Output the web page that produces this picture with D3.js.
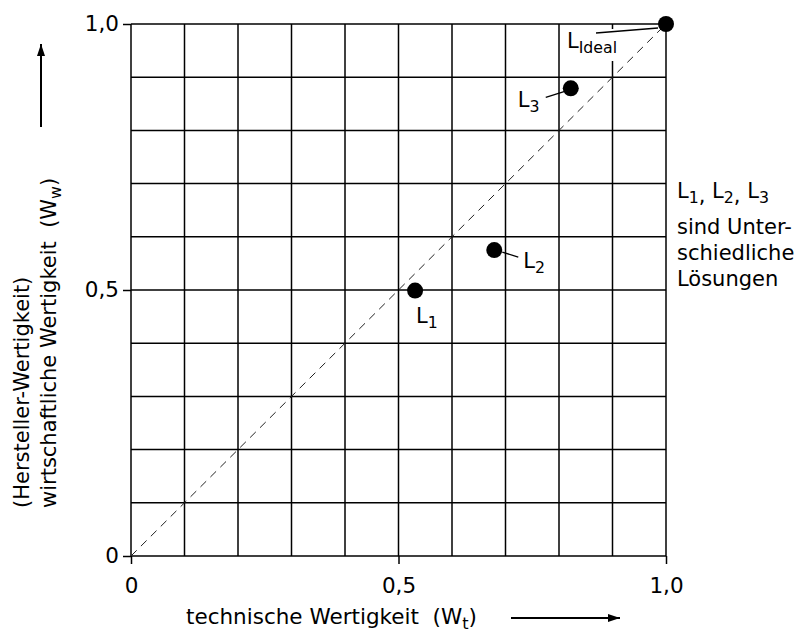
<!DOCTYPE html>
<html>
<head>
<meta charset="utf-8">
<script src="https://cdn.jsdelivr.net/npm/d3@7"></script>
<style>
  html, body { margin: 0; padding: 0; background: #fff; }
  svg text { font-family: "DejaVu Sans", Verdana, sans-serif; fill: #000; }
</style>
</head>
<body>
<svg id="chart" width="799" height="635"></svg>
<script>
// Solutions plotted as technical value (x) against economic value (y)
const solutionNames = ["1", "2", "3", "Ideal"];
const technicalValue = [0.531, 0.679, 0.822, 1.0];
const economicValue = [0.499, 0.575, 0.879, 1.0];

// Axis ticks and grid steps
const tickValues = [0, 0.5, 1.0];
const tickLabels = ["0", "0,5", "1,0"];
const gridSteps = d3.range(0, 11).map(i => i / 10);

const noteLines = ["sind Unter-", "schiedliche", "Lösungen"];

const FS = 21;      // labels, note, y title
const XFS = 21.5;   // x title
const TFS = 21.5;   // tick labels
const svg = d3.select("#chart");
const x = d3.scaleLinear().domain([0, 1]).range([131, 666]);
const y = d3.scaleLinear().domain([0, 1]).range([556, 24]);

// Grid
const grid = svg.append("g").attr("stroke", "#000").attr("stroke-width", 1.5);
grid.selectAll("line.v").data(gridSteps).join("line")
  .attr("class", "v")
  .attr("x1", d => x(d)).attr("x2", d => x(d))
  .attr("y1", y(0)).attr("y2", y(1));
grid.selectAll("line.h").data(gridSteps).join("line")
  .attr("class", "h")
  .attr("x1", x(0)).attr("x2", x(1))
  .attr("y1", d => y(d)).attr("y2", d => y(d));

// Axes (ticks + labels only)
const fmt = d => tickLabels[tickValues.indexOf(d)];
const xAxis = svg.append("g")
  .attr("transform", `translate(0,${y(0)})`)
  .call(d3.axisBottom(x).tickValues(tickValues).tickFormat(fmt).tickSize(8).tickPadding(14));
const yAxis = svg.append("g")
  .attr("transform", `translate(${x(0)},0)`)
  .call(d3.axisLeft(y).tickValues(tickValues).tickFormat(fmt).tickSize(8).tickPadding(4));
[xAxis, yAxis].forEach(a => {
  a.select(".domain").remove();
  a.selectAll(".tick line").attr("stroke", "#000").attr("stroke-width", 1.5);
  a.selectAll(".tick text").attr("font-size", TFS)
    .attr("font-family", "DejaVu Sans, Verdana, sans-serif").attr("fill", "#000");
});

// Diagonal reference line
svg.append("line")
  .attr("x1", x(0)).attr("y1", y(0)).attr("x2", x(1)).attr("y2", y(1))
  .attr("stroke", "#222").attr("stroke-width", 1).attr("stroke-dasharray", "8,6");

// Label placement relative to each point: leader line and text offsets
const labelLayout = [
  { dx: 1, dy: 32, lead: null },
  { dx: 29, dy: 18, lead: [8, 2, 24, 7] },
  { dx: -53, dy: 19, lead: [-6, 3, -25, 9] },
  { dx: -99, dy: 24, lead: [-8, 4, -70, 9], bg: true }
];

const pts = solutionNames.map((n, i) => ({
  name: n, px: x(technicalValue[i]), py: y(economicValue[i]), lay: labelLayout[i]
}));

// White backing behind the ideal label
pts.filter(p => p.lay.bg).forEach(p => {
  svg.append("rect")
    .attr("x", p.px + p.lay.dx - 4).attr("y", p.py + 5)
    .attr("width", 60).attr("height", 32).attr("fill", "#fff");
});

svg.selectAll("line.lead").data(pts.filter(p => p.lay.lead)).join("line")
  .attr("class", "lead")
  .attr("x1", p => p.px + p.lay.lead[0]).attr("y1", p => p.py + p.lay.lead[1])
  .attr("x2", p => p.px + p.lay.lead[2]).attr("y2", p => p.py + p.lay.lead[3])
  .attr("stroke", "#000").attr("stroke-width", 1.3);

svg.selectAll("circle.pt").data(pts).join("circle")
  .attr("class", "pt")
  .attr("cx", p => p.px).attr("cy", p => p.py).attr("r", 8).attr("fill", "#000");

const lbl = svg.selectAll("text.lbl").data(pts).join("text")
  .attr("class", "lbl")
  .attr("x", p => p.px + p.lay.dx).attr("y", p => p.py + p.lay.dy)
  .attr("font-size", FS);
lbl.append("tspan").text("L");
lbl.append("tspan").attr("font-size", FS * 0.75).attr("dy", 5).text(p => p.name);

// Side note
const note = svg.append("text").attr("x", 677).attr("y", 198).attr("font-size", FS);
solutionNames.slice(0, 3).forEach((n, i) => {
  note.append("tspan").attr("dy", i === 0 ? 0 : -5).text("L");
  note.append("tspan").attr("font-size", FS * 0.75).attr("dy", 5).text(n);
  if (i < 2) note.append("tspan").text(", ");
});
noteLines.forEach((t, i) => {
  svg.append("text").attr("x", 677).attr("y", 234 + i * 26).attr("font-size", FS).text(t);
});

// Axis titles
const xt = svg.append("text").attr("x", 186).attr("y", 624).attr("font-size", XFS)
  .attr("xml:space", "preserve");
xt.append("tspan").text("technische Wertigkeit  (W");
xt.append("tspan").attr("font-size", XFS * 0.75).attr("dy", 5).text("t");
xt.append("tspan").attr("dy", -5).text(")");

const yt = svg.append("g").attr("transform", "translate(0,508) rotate(-90)");
yt.append("text").attr("x", 0).attr("y", 29).attr("font-size", FS).text("(Hersteller-Wertigkeit)");
const yt2 = yt.append("text").attr("x", 0).attr("y", 56).attr("font-size", FS)
  .attr("xml:space", "preserve");
yt2.append("tspan").text("wirtschaftliche Wertigkeit  (W");
yt2.append("tspan").attr("font-size", FS * 0.75).attr("dy", 5).text("w");
yt2.append("tspan").attr("dy", -5).text(")");

// Direction arrows
const defs = svg.append("defs");
defs.append("marker").attr("id", "arr").attr("viewBox", "0 0 12 8")
  .attr("refX", 12).attr("refY", 4).attr("markerWidth", 12).attr("markerHeight", 8)
  .attr("markerUnits", "userSpaceOnUse").attr("orient", "auto")
  .append("path").attr("d", "M0,0 L12,4 L0,8 Z").attr("fill", "#000");
svg.append("line").attr("x1", 511).attr("y1", 618).attr("x2", 620).attr("y2", 618)
  .attr("stroke", "#000").attr("stroke-width", 2).attr("marker-end", "url(#arr)");
svg.append("line").attr("x1", 41).attr("y1", 127).attr("x2", 41).attr("y2", 44)
  .attr("stroke", "#000").attr("stroke-width", 2).attr("marker-end", "url(#arr)");
</script>
</body>
</html>
